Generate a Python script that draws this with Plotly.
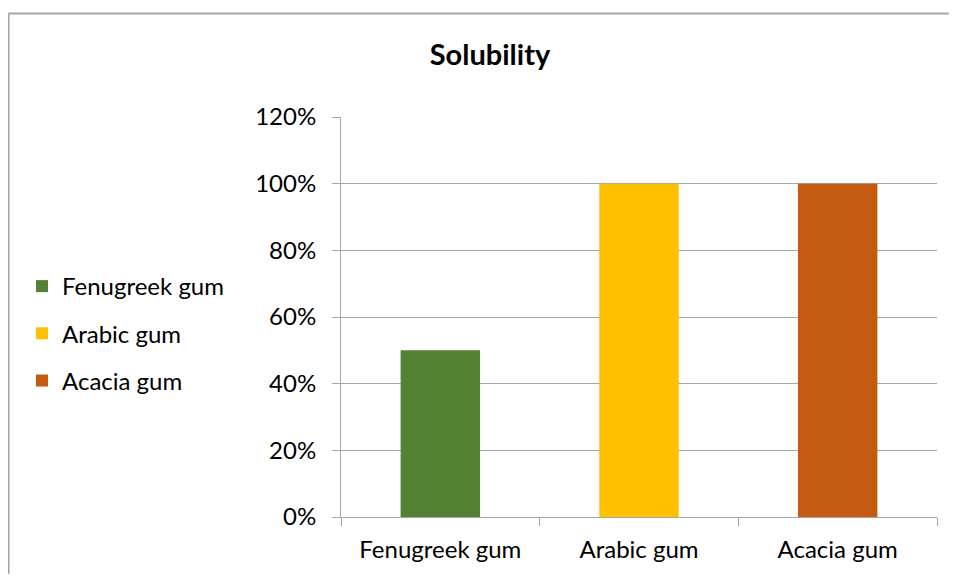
import plotly.graph_objects as go

categories = ["Fenugreek gum", "Arabic gum", "Acacia gum"]
values = [0.5, 1.0, 1.0]
colors = ["#548235", "#FFC000", "#C55A11"]
y_ticks = [0, 0.2, 0.4, 0.6, 0.8, 1.0, 1.2]
y_tick_labels = ["0%", "20%", "40%", "60%", "80%", "100%", "120%"]

# page body has an 8px margin; work in figure coordinates = screen - 8
OFF = 8
W, H = 957 - 2 * OFF, 582 - 2 * OFF
L, T = 341 - OFF, 117 - OFF
pw, ph = 596, 400
R = W - L - pw
B = H - T - ph

fig = go.Figure()
for c, v, col in zip(categories, values, colors):
    fig.add_trace(go.Bar(x=[c], y=[v], name=c, legendgroup=c,
                         marker=dict(color=col, line=dict(width=0)), width=0.4))

font = "Lato, 'Open Sans', sans-serif"
grid = "#a6a6a6"

def px_x(p):
    return (p - OFF - L) / pw

def px_y(p):
    return (H - B - (p - OFF)) / ph

border = dict(color="#a6a6a6", width=2)
fig.update_layout(
    width=W, height=H,
    margin=dict(l=L, r=R, t=T, b=B),
    paper_bgcolor="white", plot_bgcolor="white",
    barmode="overlay",
    font=dict(family=font, size=24, color="#000000"),
    title=dict(text="<b>Solubility</b>", x=px_x(490), xref="paper", xanchor="center",
               y=1 - (55 - OFF) / H, yanchor="middle", font=dict(size=29, family=font)),
    showlegend=True,
    legend=dict(x=px_x(22), xanchor="left", y=px_y(264), yanchor="top",
                font=dict(size=24, family=font), itemsizing="constant",
                tracegroupgap=13, bgcolor="rgba(0,0,0,0)"),
    xaxis=dict(type="category", showline=True, linecolor=grid, linewidth=1,
               ticks="outside", tickson="boundaries", ticklen=8, tickcolor=grid,
               showgrid=False, tickfont=dict(size=24, family=font), ticklabelstandoff=11),
    yaxis=dict(range=[0, 1.2], tickvals=y_ticks, ticktext=y_tick_labels,
               showgrid=True, gridcolor=grid, gridwidth=1,
               showline=True, linecolor=grid, linewidth=1,
               ticks="outside", ticklen=8, tickcolor=grid,
               zeroline=False, tickfont=dict(size=24, family=font), ticklabelstandoff=11),
    shapes=[
        dict(type="line", xref="paper", yref="paper",
             x0=px_x(8.5), x1=px_x(1000), y0=px_y(13.5), y1=px_y(13.5), line=border, layer="below"),
        dict(type="line", xref="paper", yref="paper",
             x0=px_x(8.5), x1=px_x(8.5), y0=px_y(13.5), y1=px_y(620), line=border, layer="below"),
    ],
)

fig.write_html("out.html")
